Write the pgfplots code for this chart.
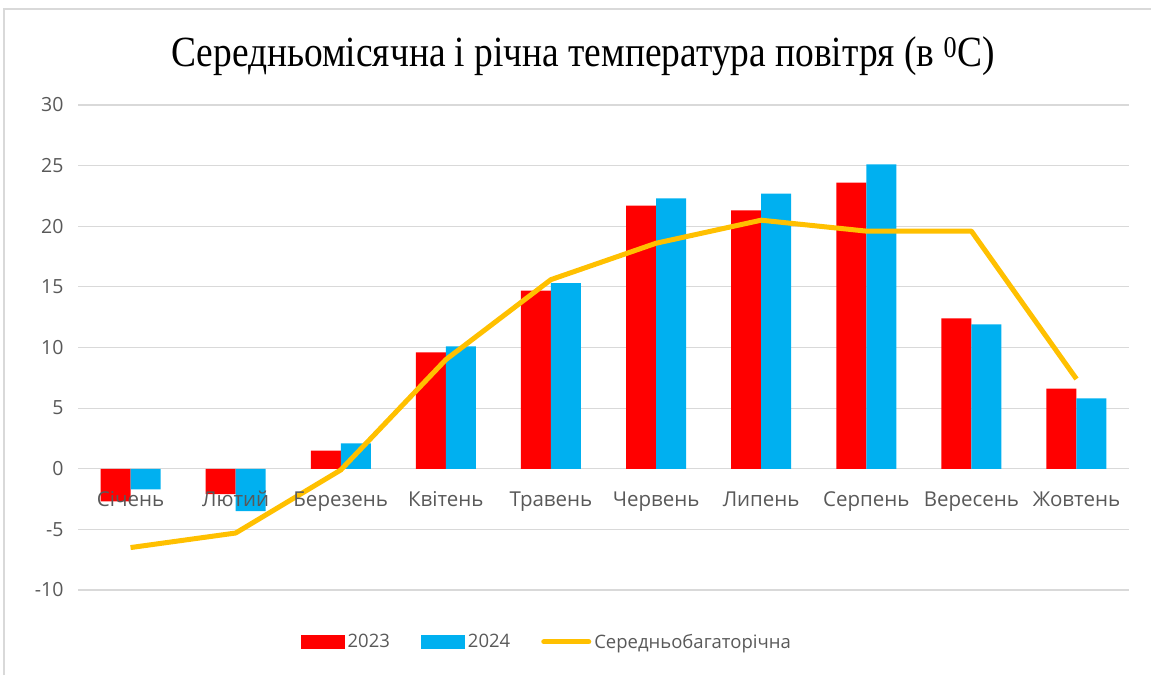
\documentclass[border=0pt]{standalone}
\usepackage{fontspec}
\setmainfont{Open Sans}
\newfontfamily\titlefont{Liberation Serif}
\usepackage{pgfplots}
\pgfplotsset{compat=1.18}

\definecolor{cred}{HTML}{FF0000}
\definecolor{cblue}{HTML}{00B0F0}
\definecolor{cyel}{HTML}{FFC000}
\definecolor{ctext}{HTML}{595959}
\definecolor{cgrid}{HTML}{D9D9D9}

\tikzset{month/.style={font=\fontsize{20.5}{22}\selectfont, text=ctext, anchor=base, yshift=-38pt}}

% monthly means, deg C
\pgfplotstableread{
x  y23   y24   norm
0  -2.7  -1.7  -6.5
1  -2.1  -3.5  -5.3
2   1.5   2.1  -0.1
3   9.6  10.1   9.0
4  14.7  15.3  15.6
5  21.7  22.3  18.6
6  21.3  22.7  20.5
7  23.6  25.1  19.6
8  12.4  11.9  19.6
9   6.6   5.8   7.4
}\temps

\begin{document}
\begin{tikzpicture}
\useasboundingbox (0,0) rectangle (1151pt,-675pt);
\draw[cgrid, line width=1.2pt] (4pt,-675pt) -- (4pt,-9pt) -- (1151pt,-9pt);
\node[font=\titlefont\fontsize{43}{47}\selectfont, anchor=center] at (583pt,-56pt)
  {\scalebox{0.87}[1]{Середньомісячна і річна температура повітря (в \textsuperscript{0}C)}};
\begin{axis}[
  at={(78pt,-590pt)}, anchor=south west,
  scale only axis, width=1051pt, height=485pt,
  xmin=-0.5, xmax=9.5, ymin=-10, ymax=30,
  axis x line=middle, axis y line=left,
  axis line style={draw=none},
  ytick={-10,-5,...,30},
  xtick=\empty,
  major tick length=0pt,
  ymajorgrids, grid style={cgrid, line width=1.2pt},
  /pgf/number format/assume math mode=true,
  yticklabel style={font=\fontsize{19.5}{22}\selectfont, text=ctext, xshift=-11pt},
  clip=false,
  ybar=0pt, bar width=30pt,
  legend columns=3,
  legend style={at={(0.446,-0.107)}, anchor=center, draw=none, fill=none,
    font=\fontsize{18.5}{20}\selectfont, text=ctext,
    /tikz/every odd column/.append style={column sep=1pt},
    /tikz/every even column/.append style={column sep=29pt}},
]
\addplot[draw=none, fill=cred, area legend,
  legend image code/.code={\fill[cred] (-3pt,-7pt) rectangle (41pt,7pt);}]
  table[x=x, y=y23] {\temps};
\addlegendentry{2023}
\addplot[draw=none, fill=cblue, area legend,
  legend image code/.code={\fill[cblue] (-3pt,-7pt) rectangle (41pt,7pt);}]
  table[x=x, y=y24] {\temps};
\addlegendentry{2024}
\addplot[sharp plot, cyel, line width=5pt, line join=round, no marks,
  legend image code/.code={\draw[cyel, line width=5pt, line cap=round] (-2pt,0pt) -- (43pt,0pt);}]
  table[x=x, y=norm] {\temps};
\addlegendentry{Середньобагаторічна}
% month names sit below the zero line, over the bars
\node[month] at (axis cs:0,0) {Січень};
\node[month] at (axis cs:1,0) {Лютий};
\node[month] at (axis cs:2,0) {Березень};
\node[month] at (axis cs:3,0) {Квітень};
\node[month] at (axis cs:4,0) {Травень};
\node[month] at (axis cs:5,0) {Червень};
\node[month] at (axis cs:6,0) {Липень};
\node[month] at (axis cs:7,0) {Серпень};
\node[month] at (axis cs:8,0) {Вересень};
\node[month] at (axis cs:9,0) {Жовтень};
\end{axis}
\end{tikzpicture}
\end{document}
